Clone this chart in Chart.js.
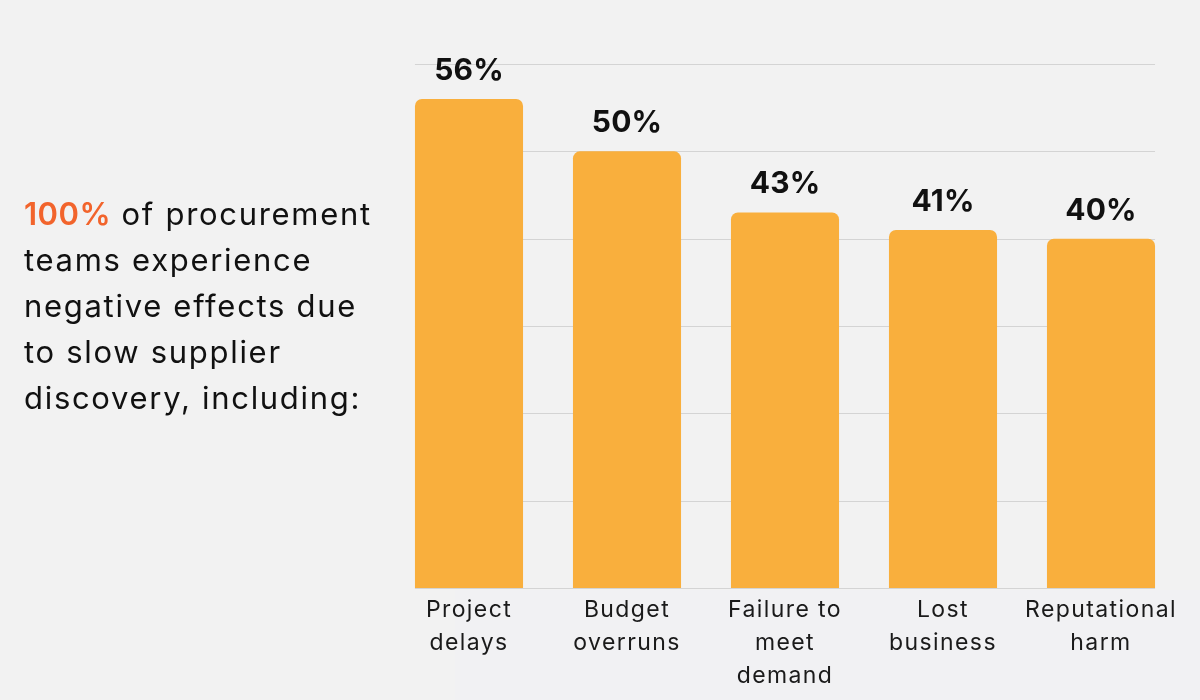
<!DOCTYPE html>
<html>
<head>
<meta charset="utf-8">
<script src="https://cdn.jsdelivr.net/npm/chart.js@4.4.1/dist/chart.umd.min.js"></script>
<style>
  html, body { margin: 0; padding: 0; background: #f2f2f2; }
  #wrap { position: relative; width: 1200px; height: 700px; overflow: hidden; }
  #light { position: absolute; left: 455px; top: 590px; width: 745px; height: 110px; background: #f1f1f3; }
  #chart { position: absolute; left: 0; top: 0; }
  #intro { position: absolute; left: 24px; top: 191px; width: 380px; white-space: nowrap;
           font-family: "Inter", "DejaVu Sans", sans-serif;
           font-size: 31px; line-height: 46px; color: #111; letter-spacing: 1.7px; }
  #intro .hl { color: #f2642c; font-weight: 600; letter-spacing: 0.5px; }
</style>
</head>
<body>
<div id="wrap">
  <div id="light"></div>
  <canvas id="chart" width="1200" height="700"></canvas>
  <div id="intro"><span class="hl">100%</span> of procurement<br>teams experience<br>negative effects due<br>to slow supplier<br>discovery, including:</div>
</div>
<script>
const categories = [
  ["Project", "delays"],
  ["Budget", "overruns"],
  ["Failure to", "meet", "demand"],
  ["Lost", "business"],
  ["Reputational", "harm"]
];
const values = [56, 50, 43, 41, 40];
const valueLabels = ["56%", "50%", "43%", "41%", "40%"];
const yTicks = [0, 10, 20, 30, 40, 50, 60];

const barColor = "#f9af3d";
const gridColor = "#d4d4d4";

const spacingPlugin = {
  id: "spacingPlugin",
  beforeDraw(chart) { chart.ctx.letterSpacing = "1.4px"; }
};

const gridPlugin = {
  id: "gridPlugin",
  beforeDatasetsDraw(chart) {
    const ctx = chart.ctx;
    const meta = chart.getDatasetMeta(0);
    const first = meta.data[0], last = meta.data[meta.data.length - 1];
    const x0 = first.x - first.width / 2;
    const x1 = last.x + last.width / 2;
    const ys = chart.scales.y;
    ctx.save();
    ctx.strokeStyle = gridColor;
    ctx.lineWidth = 1;
    yTicks.forEach(v => {
      const y = Math.round(ys.getPixelForValue(v)) + 0.5;
      ctx.beginPath();
      ctx.moveTo(x0, y);
      ctx.lineTo(x1, y);
      ctx.stroke();
    });
    ctx.restore();
  }
};

const labelPlugin = {
  id: "labelPlugin",
  afterDatasetsDraw(chart) {
    const ctx = chart.ctx;
    const meta = chart.getDatasetMeta(0);
    ctx.save();
    ctx.letterSpacing = "0.2px";
    ctx.font = "bold 30px Inter, 'DejaVu Sans', sans-serif";
    ctx.fillStyle = "#111";
    ctx.textAlign = "center";
    ctx.textBaseline = "alphabetic";
    meta.data.forEach((bar, i) => {
      ctx.fillText(valueLabels[i], bar.x, bar.y - 19);
    });
    ctx.restore();
  }
};

new Chart(document.getElementById("chart"), {
  type: "bar",
  data: {
    labels: categories,
    datasets: [{
      data: values,
      backgroundColor: barColor,
      borderRadius: { topLeft: 7, topRight: 7, bottomLeft: 0, bottomRight: 0 },
      borderSkipped: "bottom",
      barPercentage: 0.684,
      categoryPercentage: 1.0
    }]
  },
  options: {
    responsive: false,
    animation: false,
    events: [],
    layout: { padding: { left: 390, right: 20, top: 64, bottom: 0 } },
    plugins: { legend: { display: false }, tooltip: { enabled: false } },
    scales: {
      y: {
        display: false,
        min: 0, max: 60,
        ticks: { stepSize: 10 },
        grid: { display: false }
      },
      x: {
        grid: { display: false },
        border: { display: false },
        ticks: {
          color: "#1a1a1a",
          font: { family: "Inter, 'DejaVu Sans', sans-serif", size: 23, lineHeight: 1.43 },
          padding: -2,
          maxRotation: 0,
          autoSkip: false
        },
        afterFit(scale) { scale.height = 112; }
      }
    }
  },
  plugins: [spacingPlugin, gridPlugin, labelPlugin]
});
</script>
</body>
</html>
